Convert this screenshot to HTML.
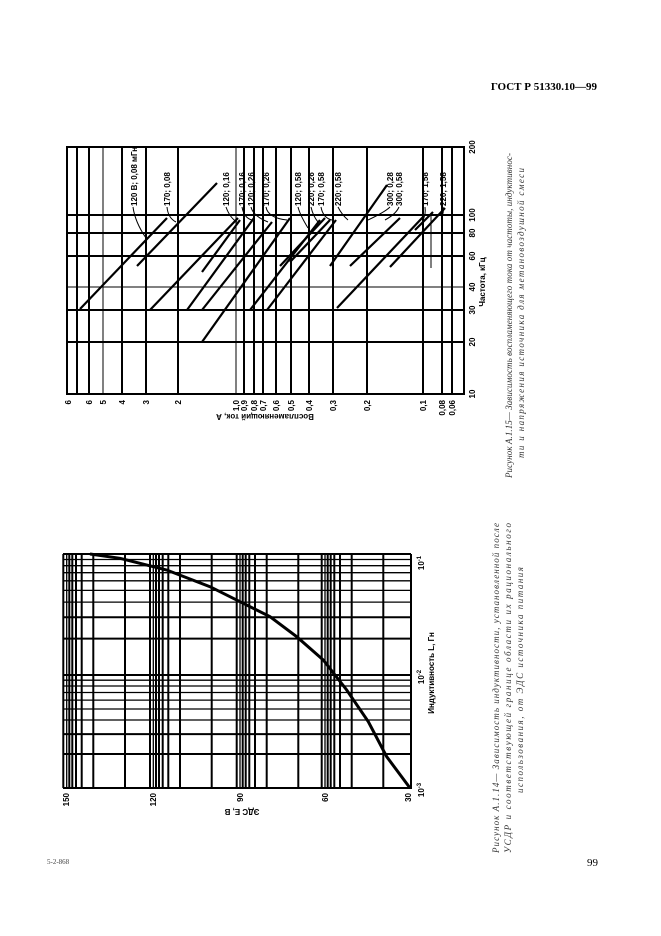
<!DOCTYPE html>
<html><head><meta charset="utf-8"><style>
html,body{margin:0;padding:0;background:#fff}
svg{display:block}
.b{font-family:"Liberation Sans",sans-serif;font-weight:bold;font-size:8px;fill:#000}
.c{font-family:"Liberation Serif",serif;font-style:italic;font-size:9px;fill:#333}
</style></head><body>
<svg width="661" height="936" viewBox="0 0 661 936" xmlns="http://www.w3.org/2000/svg">
<rect width="661" height="936" fill="#fff"/>
<text x="597" y="90" text-anchor="end" font-family="Liberation Serif,serif" font-weight="bold" font-size="11">ГОСТ Р 51330.10—99</text>
<text x="47" y="864" font-family="Liberation Serif,serif" font-size="7" fill="#444">5-2-868</text>
<text x="598" y="866" text-anchor="end" font-family="Liberation Serif,serif" font-size="11">99</text>

<!-- TOP CHART -->
<g stroke="#000" fill="none">
<rect x="67" y="147" width="397" height="247" stroke-width="2"/>
<g stroke-width="2">
<line x1="67" y1="215" x2="464" y2="215"/><line x1="67" y1="233" x2="464" y2="233"/>
<line x1="67" y1="256" x2="464" y2="256"/><line x1="67" y1="310" x2="464" y2="310"/>
<line x1="67" y1="342" x2="464" y2="342"/>
<line x1="77" y1="147" x2="77" y2="394"/><line x1="89" y1="147" x2="89" y2="394"/>
<line x1="122" y1="147" x2="122" y2="394"/><line x1="146" y1="147" x2="146" y2="394"/>
<line x1="178" y1="147" x2="178" y2="394"/><line x1="244" y1="147" x2="244" y2="394"/>
<line x1="254" y1="147" x2="254" y2="394"/><line x1="263" y1="147" x2="263" y2="394"/>
<line x1="276" y1="147" x2="276" y2="394"/><line x1="291" y1="147" x2="291" y2="394"/>
<line x1="309" y1="147" x2="309" y2="394"/><line x1="333" y1="147" x2="333" y2="394"/>
<line x1="367" y1="147" x2="367" y2="394"/><line x1="423" y1="147" x2="423" y2="394"/>
<line x1="442" y1="147" x2="442" y2="394"/><line x1="452" y1="147" x2="452" y2="394"/>
</g>
<g stroke-width="1">
<line x1="67" y1="287" x2="464" y2="287"/>
<line x1="103" y1="147" x2="103" y2="394"/><line x1="236" y1="147" x2="236" y2="394"/>
<line x1="431" y1="215" x2="431" y2="268"/>
</g>
<g stroke-width="2.2">
<line x1="80" y1="309" x2="167" y2="218"/>
<line x1="137" y1="266" x2="217" y2="183"/>
<line x1="150" y1="310" x2="238" y2="218"/>
<line x1="202" y1="272" x2="240" y2="220"/>
<line x1="187" y1="310" x2="254" y2="218"/>
<line x1="202" y1="310" x2="272" y2="222"/>
<line x1="202" y1="342" x2="290" y2="218"/>
<line x1="250" y1="310" x2="320" y2="220"/>
<line x1="267" y1="310" x2="336" y2="220"/>
<line x1="280" y1="266" x2="325" y2="218"/>
<line x1="290" y1="262" x2="330" y2="220"/>
<line x1="330" y1="266" x2="387" y2="185"/>
<line x1="337" y1="308" x2="423" y2="217"/>
<line x1="350" y1="266" x2="400" y2="218"/>
<line x1="390" y1="267" x2="445" y2="208"/>
<line x1="415" y1="230" x2="433" y2="212"/>
</g>
<g stroke-width="1">
<path d="M133 207 Q135 222 146 238"/><path d="M167 207 Q168 218 176 222"/>
<path d="M226 207 Q230 218 237 222"/><path d="M242 207 Q244 218 252 220"/>
<path d="M251 207 Q253 216 268 222"/><path d="M266 207 Q268 218 287 220"/>
<path d="M298 207 Q300 215 308 228"/><path d="M311 207 Q313 216 318 222"/>
<path d="M321 207 Q323 218 332 220"/><path d="M338 207 Q342 215 348 220"/>
<path d="M390 207 Q385 212 368 220"/><path d="M399 207 Q396 214 385 220"/>
<path d="M425 207 Q426 214 423 220"/><path d="M443 207 Q444 212 442 216"/>
</g>
</g>
<g class="b">
<text transform="rotate(-90 137 206)" x="137" y="206">120 В; 0,08 мГн</text>
<text transform="rotate(-90 170 206)" x="170" y="206">170; 0,08</text>
<text transform="rotate(-90 229 206)" x="229" y="206">120; 0,16</text>
<text transform="rotate(-90 245 206)" x="245" y="206">170; 0,16</text>
<text transform="rotate(-90 254 206)" x="254" y="206">120; 0,26</text>
<text transform="rotate(-90 269 206)" x="269" y="206">170; 0,26</text>
<text transform="rotate(-90 301 206)" x="301" y="206">120; 0,58</text>
<text transform="rotate(-90 314 206)" x="314" y="206">220; 0,26</text>
<text transform="rotate(-90 324 206)" x="324" y="206">170; 0,58</text>
<text transform="rotate(-90 341 206)" x="341" y="206">220; 0,58</text>
<text transform="rotate(-90 393 206)" x="393" y="206">300; 0,28</text>
<text transform="rotate(-90 402 206)" x="402" y="206">300; 0,58</text>
<text transform="rotate(-90 428 206)" x="428" y="206">170; 1,58</text>
<text transform="rotate(-90 446 206)" x="446" y="206">220; 1,58</text>
</g>
<g class="b" text-anchor="middle">
<text transform="rotate(-90 475 147)" x="475" y="147">200</text>
<text transform="rotate(-90 475 215)" x="475" y="215">100</text>
<text transform="rotate(-90 475 233)" x="475" y="233">80</text>
<text transform="rotate(-90 475 256)" x="475" y="256">60</text>
<text transform="rotate(-90 475 287)" x="475" y="287">40</text>
<text transform="rotate(-90 475 310)" x="475" y="310">30</text>
<text transform="rotate(-90 475 342)" x="475" y="342">20</text>
<text transform="rotate(-90 475 394)" x="475" y="394">10</text>
<text transform="rotate(-90 485 282)" x="485" y="282">Частота, кГц</text>
</g>
<g class="b" text-anchor="end">
<text transform="rotate(-90 71 400)" x="71" y="400">6</text>
<text transform="rotate(-90 92 400)" x="92" y="400">6</text>
<text transform="rotate(-90 106 400)" x="106" y="400">5</text>
<text transform="rotate(-90 125 400)" x="125" y="400">4</text>
<text transform="rotate(-90 149 400)" x="149" y="400">3</text>
<text transform="rotate(-90 181 400)" x="181" y="400">2</text>
<text transform="rotate(-90 239 400)" x="239" y="400">1,0</text>
<text transform="rotate(-90 247 400)" x="247" y="400">0,9</text>
<text transform="rotate(-90 257 400)" x="257" y="400">0,8</text>
<text transform="rotate(-90 266 400)" x="266" y="400">0,7</text>
<text transform="rotate(-90 279 400)" x="279" y="400">0,6</text>
<text transform="rotate(-90 294 400)" x="294" y="400">0,5</text>
<text transform="rotate(-90 312 400)" x="312" y="400">0,4</text>
<text transform="rotate(-90 336 400)" x="336" y="400">0,3</text>
<text transform="rotate(-90 370 400)" x="370" y="400">0,2</text>
<text transform="rotate(-90 426 400)" x="426" y="400">0,1</text>
<text transform="rotate(-90 445 400)" x="445" y="400">0,08</text>
<text transform="rotate(-90 455 400)" x="455" y="400">0,06</text>
</g>
<text class="b" text-anchor="middle" transform="rotate(180 265 414)" x="265" y="414">Воспламеняющий ток, А</text>
<g class="c">
<text transform="rotate(-90 512 478)" x="512" y="478" textLength="325" lengthAdjust="spacing">Рисунок А.1.15— Зависимость воспламеняющего тока от частоты, индуктивнос-</text>
<text transform="rotate(-90 524 458)" x="524" y="458" textLength="290" lengthAdjust="spacing">ти и напряжения источника для метановоздушной смеси</text>
</g>

<!-- BOTTOM CHART -->
<g stroke="#000" fill="none">
<g stroke-width="2">
<line x1="63.3" y1="554" x2="63.3" y2="788"/><line x1="69.3" y1="554" x2="69.3" y2="788"/>
<line x1="72.3" y1="554" x2="72.3" y2="788"/><line x1="76" y1="554" x2="76" y2="788"/>
<line x1="81.7" y1="554" x2="81.7" y2="788"/><line x1="93.3" y1="554" x2="93.3" y2="788"/>
<line x1="150" y1="554" x2="150" y2="788"/><line x1="156" y1="554" x2="156" y2="788"/>
<line x1="159" y1="554" x2="159" y2="788"/><line x1="162.7" y1="554" x2="162.7" y2="788"/>
<line x1="168.3" y1="554" x2="168.3" y2="788"/><line x1="180" y1="554" x2="180" y2="788"/>
<line x1="236.7" y1="554" x2="236.7" y2="788"/><line x1="242.7" y1="554" x2="242.7" y2="788"/>
<line x1="245.7" y1="554" x2="245.7" y2="788"/><line x1="249.3" y1="554" x2="249.3" y2="788"/>
<line x1="255" y1="554" x2="255" y2="788"/><line x1="266.7" y1="554" x2="266.7" y2="788"/>
<line x1="321.7" y1="554" x2="321.7" y2="788"/><line x1="327.7" y1="554" x2="327.7" y2="788"/>
<line x1="330.7" y1="554" x2="330.7" y2="788"/><line x1="334.3" y1="554" x2="334.3" y2="788"/>
<line x1="340" y1="554" x2="340" y2="788"/><line x1="351.7" y1="554" x2="351.7" y2="788"/>
<line x1="125" y1="554" x2="125" y2="788"/><line x1="211.7" y1="554" x2="211.7" y2="788"/>
<line x1="298.3" y1="554" x2="298.3" y2="788"/><line x1="383.3" y1="554" x2="383.3" y2="788"/>
<line x1="411" y1="554" x2="411" y2="789"/>
<line x1="63" y1="554" x2="411" y2="554"/><line x1="63" y1="675" x2="411" y2="675"/>
<line x1="63" y1="788" x2="411" y2="788"/>
<line x1="63" y1="638.6" x2="411" y2="638.6"/><line x1="63" y1="617.3" x2="411" y2="617.3"/>
<line x1="63" y1="754" x2="411" y2="754"/><line x1="63" y1="734.1" x2="411" y2="734.1"/>
</g>
<g stroke-width="1.3">
<line x1="66.7" y1="554" x2="66.7" y2="788"/><line x1="153.3" y1="554" x2="153.3" y2="788"/>
<line x1="240" y1="554" x2="240" y2="788"/><line x1="325" y1="554" x2="325" y2="788"/>
<line x1="63" y1="602.1" x2="411" y2="602.1"/><line x1="63" y1="590.4" x2="411" y2="590.4"/>
<line x1="63" y1="580.8" x2="411" y2="580.8"/><line x1="63" y1="572.7" x2="411" y2="572.7"/>
<line x1="63" y1="565.7" x2="411" y2="565.7"/><line x1="63" y1="559.5" x2="411" y2="559.5"/>
<line x1="63" y1="720" x2="411" y2="720"/><line x1="63" y1="709" x2="411" y2="709"/>
<line x1="63" y1="700.1" x2="411" y2="700.1"/><line x1="63" y1="692.5" x2="411" y2="692.5"/>
<line x1="63" y1="686" x2="411" y2="686"/><line x1="63" y1="680.2" x2="411" y2="680.2"/>
</g>
<path stroke-width="3" d="M410 788 L386.7 756.7 L368.3 721.7 L346.7 690 L323.3 660 L296.7 636.7 L270 616.7 L240 601.7 L210 586.7 L166.7 570 L120 558.3 L90 554"/>
</g>
<g class="b" text-anchor="end">
<text transform="rotate(-90 69 793)" x="69" y="793">150</text>
<text transform="rotate(-90 156 793)" x="156" y="793">120</text>
<text transform="rotate(-90 243 793)" x="243" y="793">90</text>
<text transform="rotate(-90 328 793)" x="328" y="793">60</text>
<text transform="rotate(-90 411 793)" x="411" y="793">30</text>
</g>
<text class="b" text-anchor="middle" transform="rotate(180 242 809)" x="242" y="809">ЭДС Е, В</text>
<g class="b" text-anchor="middle">
<text transform="rotate(-90 424 563)" x="424" y="563">10<tspan dy="-3" font-size="6">-1</tspan></text>
<text transform="rotate(-90 424 677)" x="424" y="677">10<tspan dy="-3" font-size="6">-2</tspan></text>
<text transform="rotate(-90 424 790)" x="424" y="790">10<tspan dy="-3" font-size="6">-3</tspan></text>
<text transform="rotate(-90 434 673)" x="434" y="673">Индуктивность L, Гн</text>
</g>
<g class="c">
<text transform="rotate(-90 499 853)" x="499" y="853" textLength="330" lengthAdjust="spacing">Рисунок А.1.14— Зависимость индуктивности, установленной после</text>
<text transform="rotate(-90 511 853)" x="511" y="853" textLength="330" lengthAdjust="spacing">УСДР и соответствующей границе области их рационального</text>
<text transform="rotate(-90 523 793)" x="523" y="793" textLength="226" lengthAdjust="spacing">использования, от ЭДС источника питания</text>
</g>
</svg>
</body></html>
